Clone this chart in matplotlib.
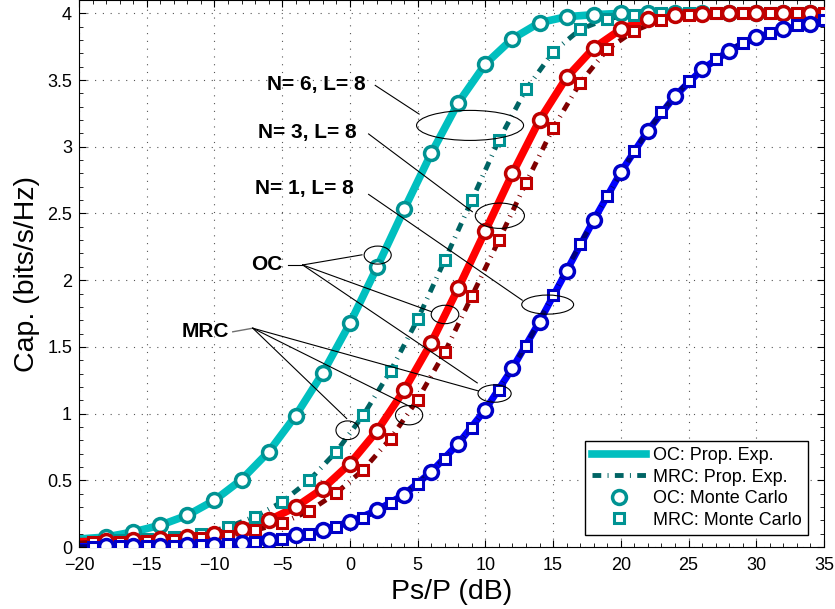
import matplotlib
matplotlib.use('Agg')
import matplotlib.pyplot as plt
from matplotlib.lines import Line2D
from matplotlib.patches import Ellipse
from matplotlib.ticker import MultipleLocator
import numpy as np

plt.rcParams['font.family'] = ['Liberation Sans', 'DejaVu Sans']

# Monte Carlo points, OC at even dB, MRC at odd dB
x_oc = list(range(-18, 35, 2))
x_mrc = list(range(-19, 36, 2))

cap_oc_n6 = [0.075, 0.113, 0.163, 0.238, 0.35, 0.505, 0.713, 0.985, 1.305, 1.676,
             2.096, 2.53, 2.95, 3.33, 3.62, 3.81, 3.93, 3.975, 3.99, 4.0,
             4.0, 4.0, 4.0, 4.0, 4.0, 4.0, 4.0]
cap_oc_n3 = [0.045, 0.053, 0.063, 0.075, 0.095, 0.138, 0.2, 0.3, 0.438, 0.625,
             0.87, 1.175, 1.53, 1.94, 2.37, 2.8, 3.2, 3.52, 3.74, 3.88,
             3.96, 3.985, 3.995, 4.0, 4.0, 4.0, 4.0]
cap_oc_n1 = [0.005, 0.006, 0.008, 0.012, 0.018, 0.03, 0.055, 0.088, 0.128, 0.188,
             0.275, 0.393, 0.563, 0.775, 1.03, 1.34, 1.69, 2.07, 2.45, 2.81,
             3.12, 3.38, 3.58, 3.72, 3.82, 3.88, 3.92]

cap_mrc_n6 = [0.04, 0.05, 0.062, 0.075, 0.097, 0.15, 0.228, 0.338, 0.5, 0.715,
              0.99, 1.32, 1.706, 2.15, 2.6, 3.05, 3.43, 3.71, 3.88, 3.96,
              3.99, 4.0, 4.0, 4.0, 4.0, 4.0, 4.0, 4.0]
cap_mrc_n3 = [0.035, 0.04, 0.045, 0.055, 0.065, 0.085, 0.125, 0.18, 0.27, 0.405,
              0.58, 0.813, 1.105, 1.46, 1.88, 2.3, 2.73, 3.14, 3.48, 3.73,
              3.87, 3.95, 3.985, 4.0, 4.0, 4.0, 4.0, 4.0]
cap_mrc_n1 = [0.003, 0.004, 0.006, 0.009, 0.013, 0.022, 0.04, 0.063, 0.095, 0.15,
              0.22, 0.33, 0.475, 0.66, 0.895, 1.18, 1.51, 1.89, 2.27, 2.63,
              2.97, 3.26, 3.49, 3.66, 3.78, 3.85, 3.91, 3.95]

# values of the analytic curves at the axis ends (-20 dB and 35 dB)
oc_start = [0.06, 0.04, 0.004]
oc_end = [4.0, 4.0, 3.95]
mrc_start = [0.035, 0.03, 0.002]

series = [
    (cap_oc_n6, cap_mrc_n6, '#00BFBF', '#006464', '#009393', '#009393', 5.5),
    (cap_oc_n3, cap_mrc_n3, '#FF0000', '#800000', '#C00000', '#C00000', 5.5),
    (cap_oc_n1, cap_mrc_n1, '#0000FF', '#00007A', '#0000C8', '#0000C8', 5.0),
]
dashdot = (0, (1.8, 1.3, 0.2, 1.3))

fig = plt.figure(figsize=(8.35, 6.09), dpi=100)
ax = fig.add_axes([79 / 835, 62 / 609, 745 / 835, 547 / 609])

for i, (oc, mrc, lc, mc, oce, mre, lw) in enumerate(series):
    ax.plot([-20] + x_oc + [35], [oc_start[i]] + oc + [oc_end[i]], color=lc, lw=lw, zorder=2)
    ax.plot([-20] + x_mrc, [mrc_start[i]] + mrc, color=mc, lw=3.5, ls=dashdot, zorder=2)
    ax.plot(x_oc, oc, ls='none', marker='o', ms=10, mfc='white', mec=oce, mew=2.5, zorder=3)
    ax.plot(x_mrc, mrc, ls='none', marker='s', ms=7, mfc='white', mec=mre, mew=2.2, zorder=3)

ax.set_xlim(-20, 35)
ax.set_ylim(0, 4.1)
ax.xaxis.set_major_locator(MultipleLocator(5))
ax.xaxis.set_minor_locator(MultipleLocator(1))
ax.yaxis.set_minor_locator(MultipleLocator(0.1))
ax.set_yticks([0, 0.5, 1, 1.5, 2, 2.5, 3, 3.5, 4])
ax.set_yticklabels(['0', '0.5', '1', '1.5', '2', '2.5', '3', '3.5', '4'])
ax.tick_params(which='both', direction='in', top=True, right=True, labelsize=13)
ax.tick_params(which='major', length=5, width=0.8)
ax.tick_params(which='minor', length=3, width=0.6)
ax.tick_params(axis='x', which='major', pad=7.5)
ax.tick_params(axis='y', which='major', pad=5)
ax.grid(True, which='major', color='#555555', ls=(0, (1, 6)), lw=0.8)
ax.set_xlabel('Ps/P (dB)', fontsize=20.5, labelpad=3)
ax.set_ylabel('Cap. (bits/s/Hz)', fontsize=20.5, labelpad=5)

# annotations
ann = dict(color='black', lw=0.8, zorder=4)
for (x, y, w, h) in [(8.87, 3.16, 7.9, 0.225), (11.07, 2.483, 3.63, 0.19),
                     (14.6, 1.817, 3.83, 0.143), (2.05, 2.188, 2.0, 0.135),
                     (7.02, 1.743, 2.04, 0.138), (10.68, 1.15, 2.45, 0.13),
                     (-0.17, 0.875, 1.72, 0.14), (4.37, 0.988, 2.01, 0.145)]:
    ax.add_patch(Ellipse((x, y), w, h, fill=False, ec='black', lw=0.8, zorder=4))

txt = dict(fontsize=15, fontweight='bold', ha='right', va='center', zorder=5)
ax.text(1.13, 3.47, 'N= 6, L= 8', **txt)
ax.text(0.49, 3.11, 'N= 3, L= 8', **txt)
ax.text(0.25, 2.69, 'N= 1, L= 8', **txt)
ax.plot([1.87, 5.11], [3.46, 3.245], **ann)
ax.plot([1.38, 9.04], [3.096, 2.513], **ann)
ax.plot([1.38, 12.72], [2.643, 1.85], **ann)

ax.text(-5.0, 2.12, 'OC', **txt)
ax.plot([-4.59, -3.49], [2.114, 2.114], **ann)
for (x, y) in [(0.89, 2.19), (6.04, 1.763), (9.4, 1.23)]:
    ax.plot([-3.49, x], [2.114, y], **ann)

ax.text(-8.93, 1.613, 'MRC', **txt)
ax.plot([-8.65, -7.17], [1.613, 1.64], color='#707070', lw=1.0, zorder=4)
for (x, y) in [(-0.24, 0.963), (4.49, 1.05), (9.48, 1.17)]:
    ax.plot([-7.17, x], [1.64, y], **ann)

handles = [
    Line2D([], [], color='#00BFBF', lw=5.5),
    Line2D([], [], color='#006464', lw=3.5, ls=dashdot),
    Line2D([], [], ls='none', marker='o', ms=10, mfc='white', mec='#009393', mew=2.5),
    Line2D([], [], ls='none', marker='s', ms=7, mfc='white', mec='#009393', mew=2.2),
]
labels = ['OC: Prop. Exp.', 'MRC: Prop. Exp.', 'OC: Monte Carlo', 'MRC: Monte Carlo']
leg = ax.legend(handles, labels, loc='lower right', bbox_to_anchor=(1 - 16 / 745, 12 / 547),
                borderaxespad=0, fontsize=13, fancybox=False, framealpha=1,
                edgecolor='black', handlelength=3, handletextpad=0.4,
                labelspacing=0.25, borderpad=0.35)
leg.get_frame().set_linewidth(1.0)
leg.set_zorder(6)

fig.savefig('out.png', dpi=100)
